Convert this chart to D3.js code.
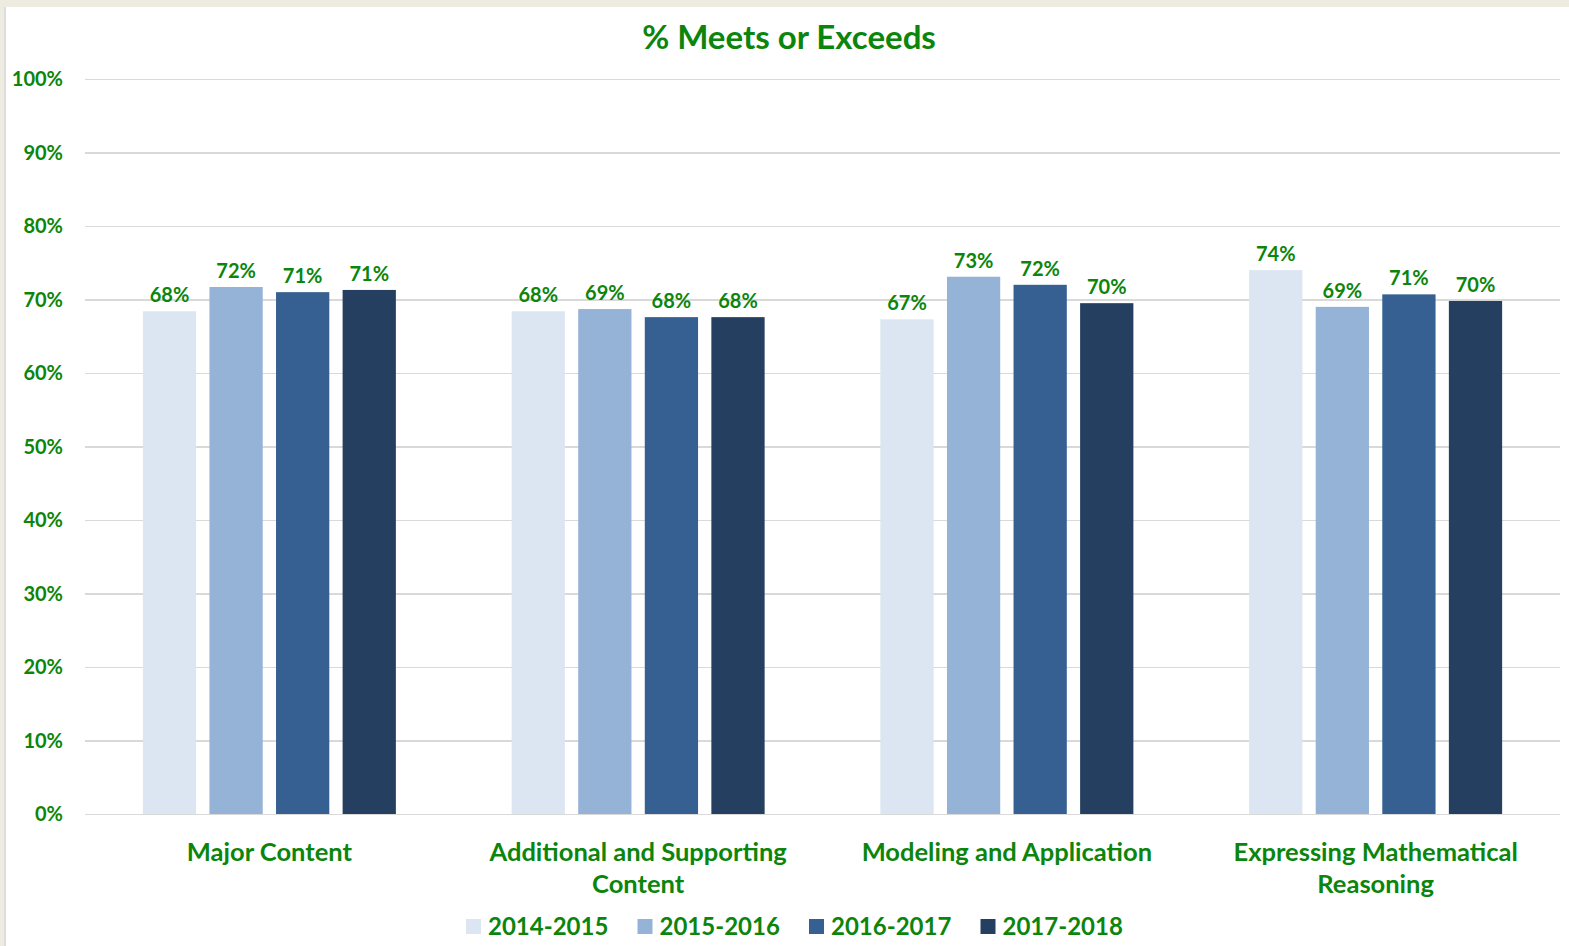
<!DOCTYPE html>
<html>
<head>
<meta charset="utf-8">
<script src="https://cdn.jsdelivr.net/npm/d3@7"></script>
<style>
  html, body { margin: 0; padding: 0; background: #eeebe1; }
  svg { display: block; }
  text { font-family: Lato, 'Open Sans', sans-serif; font-weight: bold; fill: #0b850b; }
  .grid line { stroke: #d9d9d9; stroke-width: 1.5; shape-rendering: crispEdges; }
  .grid path { display: none; }
</style>
</head>
<body>
<div id="chart"></div>
<script>
const categories = ['Major Content', 'Additional and Supporting Content', 'Modeling and Application', 'Expressing Mathematical Reasoning'];
const years = ['2014-2015', '2015-2016', '2016-2017', '2017-2018'];
const colors = ['#dce6f2', '#95b3d7', '#366092', '#243f60'];
// one array per school year, one value per category
const y2014 = [0.684, 0.684, 0.673, 0.740];
const y2015 = [0.717, 0.687, 0.731, 0.690];
const y2016 = [0.710, 0.676, 0.720, 0.707];
const y2017 = [0.713, 0.676, 0.695, 0.698];
const yTicks = [0, 0.1, 0.2, 0.3, 0.4, 0.5, 0.6, 0.7, 0.8, 0.9, 1];

const series = [y2014, y2015, y2016, y2017];
const data = categories.map((c, i) => ({
  cat: c,
  vals: years.map((yr, j) => ({ year: yr, value: series[j][i], color: colors[j] }))
}));

const W = 1569, H = 946;
const margin = { top: 79, right: 9, bottom: 132, left: 85 };
const width = W - margin.left - margin.right;
const height = H - margin.top - margin.bottom;

const svg = d3.select('#chart').append('svg')
  .attr('width', W)
  .attr('height', H);

// white sheet with the thin frame on the left
svg.append('rect').attr('x', 6).attr('y', 7).attr('width', W - 6).attr('height', H - 7).attr('fill', '#fff');
svg.append('rect').attr('x', 4).attr('y', 7).attr('width', 2).attr('height', H - 7).attr('fill', '#dddddd');

svg.append('text')
  .attr('x', 789)
  .attr('y', 49)
  .attr('text-anchor', 'middle')
  .style('font-size', '33px')
  .text('% Meets or Exceeds');

const g = svg.append('g')
  .attr('transform', 'translate(' + margin.left + ',' + margin.top + ')');

const x0 = d3.scaleBand()
  .domain(categories)
  .range([0, width])
  .paddingInner(0)
  .paddingOuter(0);

const clusterW = 253;
const x1 = d3.scaleBand()
  .domain(years)
  .range([0, clusterW])
  .paddingInner(0.2)
  .paddingOuter(0);

const y = d3.scaleLinear()
  .domain([0, 1])
  .range([height, 0]);

g.append('g')
  .attr('class', 'grid')
  .call(d3.axisLeft(y).tickValues(yTicks).tickSize(-width).tickFormat(''));

g.append('g')
  .attr('class', 'y-labels')
  .selectAll('text')
  .data(yTicks)
  .enter()
  .append('text')
  .attr('x', -22)
  .attr('y', d => y(d))
  .attr('dy', '0.35em')
  .attr('text-anchor', 'end')
  .style('font-size', '20px')
  .text(d3.format('.0%'));

const groups = g.selectAll('.cat')
  .data(data)
  .enter()
  .append('g')
  .attr('class', 'cat')
  .attr('transform', d => 'translate(' + (x0(d.cat) + (x0.bandwidth() - clusterW) / 2) + ',0)');

groups.selectAll('rect')
  .data(d => d.vals)
  .enter()
  .append('rect')
  .attr('x', d => x1(d.year))
  .attr('width', x1.bandwidth())
  .attr('y', d => y(d.value))
  .attr('height', d => height - y(d.value))
  .attr('fill', d => d.color);

groups.selectAll('.val')
  .data(d => d.vals)
  .enter()
  .append('text')
  .attr('class', 'val')
  .attr('x', d => x1(d.year) + x1.bandwidth() / 2)
  .attr('y', d => y(d.value) - 9)
  .attr('text-anchor', 'middle')
  .style('font-size', '20px')
  .text(d => d3.format('.0%')(d.value));

// category labels, wrapped like the spreadsheet does
const catLabels = g.selectAll('.cat-label')
  .data(categories)
  .enter()
  .append('text')
  .attr('class', 'cat-label')
  .attr('text-anchor', 'middle')
  .attr('x', d => x0(d) + x0.bandwidth() / 2)
  .attr('y', height + 47)
  .style('font-size', '25.5px');

catLabels.each(function (d) {
  const el = d3.select(this);
  const words = d.split(' ');
  let line = [];
  let tspan = el.append('tspan').attr('x', el.attr('x')).attr('dy', 0);
  words.forEach(w => {
    line.push(w);
    tspan.text(line.join(' '));
    if (tspan.node().getComputedTextLength() > 330 && line.length > 1) {
      line.pop();
      tspan.text(line.join(' '));
      line = [w];
      tspan = el.append('tspan').attr('x', el.attr('x')).attr('dy', '32px').text(w);
    }
  });
});

const legend = svg.append('g')
  .attr('transform', 'translate(466,927)');

const item = legend.selectAll('g')
  .data(years)
  .enter()
  .append('g')
  .attr('transform', (d, i) => 'translate(' + (i * 171.5) + ',0)');

item.append('rect')
  .attr('x', 0)
  .attr('y', -8)
  .attr('width', 15)
  .attr('height', 15)
  .attr('fill', (d, i) => colors[i]);

item.append('text')
  .attr('x', 22)
  .attr('y', 0)
  .attr('dy', '0.35em')
  .style('font-size', '24px')
  .text(d => d);
</script>
</body>
</html>
